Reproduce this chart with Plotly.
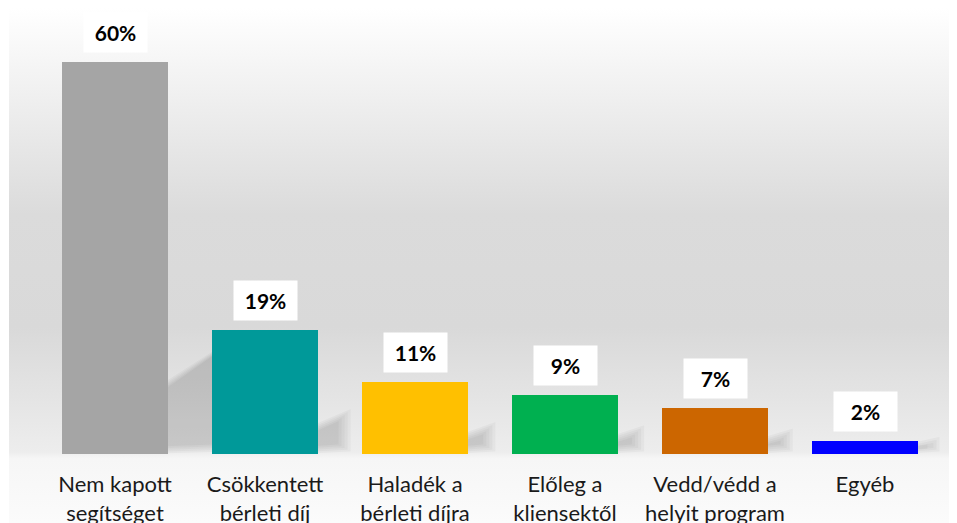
import base64
import plotly.graph_objects as go

categories = ["Nem kapott<br>segítséget", "Csökkentett<br>bérleti díj", "Haladék a<br>bérleti díjra",
              "Előleg a<br>kliensektől", "Vedd/védd a<br>helyit program", "Egyéb"]
values = [60, 19, 11, 9, 7, 2]
value_labels = ["60%", "19%", "11%", "9%", "7%", "2%"]
colors = ["#a5a5a5", "#009999", "#ffc000", "#00b050", "#cc6600", "#0000ff"]

# page body has an 8px margin, so the figure is sized to fit the 957x523 window
W, H = 949, 515
L, R, T, B = 32, 17, 0, 69
YMAX = 68.27
BAR_W = 0.71
FONT = "Lato"

xs = list(range(len(values)))
pw, ph = W - L - R, H - T - B
px_x = 1.0 / (pw / 6.0)      # data units per pixel (x)
px_y = YMAX / ph             # data units per pixel (y)

fig = go.Figure()
fig.add_trace(go.Bar(x=xs, y=values, width=BAR_W, marker=dict(color=colors, line=dict(width=0)),
                     hoverinfo="skip"))

# background gradient
svg = ('<svg xmlns="http://www.w3.org/2000/svg" width="100" height="100" preserveAspectRatio="none">'
       '<defs><linearGradient id="g" x1="0" y1="0" x2="0" y2="1">'
       '<stop offset="0" stop-color="#ffffff"/>'
       '<stop offset="0.40" stop-color="#dbdbdb"/>'
       '<stop offset="0.62" stop-color="#d9d9d9"/>'
       '<stop offset="0.862" stop-color="#ededed"/>'
       '<stop offset="0.875" stop-color="#f6f6f6"/>'
       '<stop offset="1" stop-color="#fbfbfb"/>'
       '</linearGradient></defs><rect width="100" height="100" fill="url(#g)"/></svg>')
src = "data:image/svg+xml;base64," + base64.b64encode(svg.encode()).decode()
fig.add_layout_image(dict(source=src, xref="paper", yref="paper", x=(1 - L) / pw, y=1 + T / ph,
                          sizex=(W - 1) / pw, sizey=H / ph, sizing="stretch", layer="below",
                          xanchor="left", yanchor="top"))

# soft perspective shadows (layered to fake a blur)
for i, v in enumerate(values):
    hp = v / px_y
    x1 = i + BAR_W / 2
    for grow in (-6, -3, 0, 3, 6):
        dx = (14 + 0.1 * hp + grow) * px_x
        ht = (0.25 * hp + 8 + grow) * px_y
        b0 = (4 - grow * 0.6) * px_y
        path = (f"M {x1 - 0.05},{b0} L {x1 + dx},{b0 + 2 * px_y} "
                f"L {x1 + dx},{ht} L {x1 - 0.05},{0.62 * ht} Z")
        fig.add_shape(type="path", path=path, xref="x", yref="y", fillcolor="rgba(0,0,0,0.032)",
                      line=dict(width=0), layer="below")

for i, (v, t) in enumerate(zip(values, value_labels)):
    fig.add_annotation(x=i, y=v, text=f"<b>{t}</b>", showarrow=False, yanchor="bottom", yshift=9,
                       bgcolor="white", width=47, height=23, borderpad=8,
                       font=dict(family=FONT, size=21, color="black"))

fig.update_layout(
    width=W, height=H, margin=dict(l=L, r=R, t=T, b=B, autoexpand=False),
    paper_bgcolor="white", plot_bgcolor="rgba(0,0,0,0)",
    showlegend=False, bargap=0,
    xaxis=dict(range=[-0.5, 5.5], tickvals=xs, ticktext=categories, showgrid=False, zeroline=False,
               showline=False, ticks="", ticklabelstandoff=15, automargin=False,
               tickfont=dict(family=FONT, size=22, color="#1a1a1a")),
    yaxis=dict(range=[0, YMAX], visible=False, showgrid=False, zeroline=False, automargin=False),
)

fig.write_html("out.html")
